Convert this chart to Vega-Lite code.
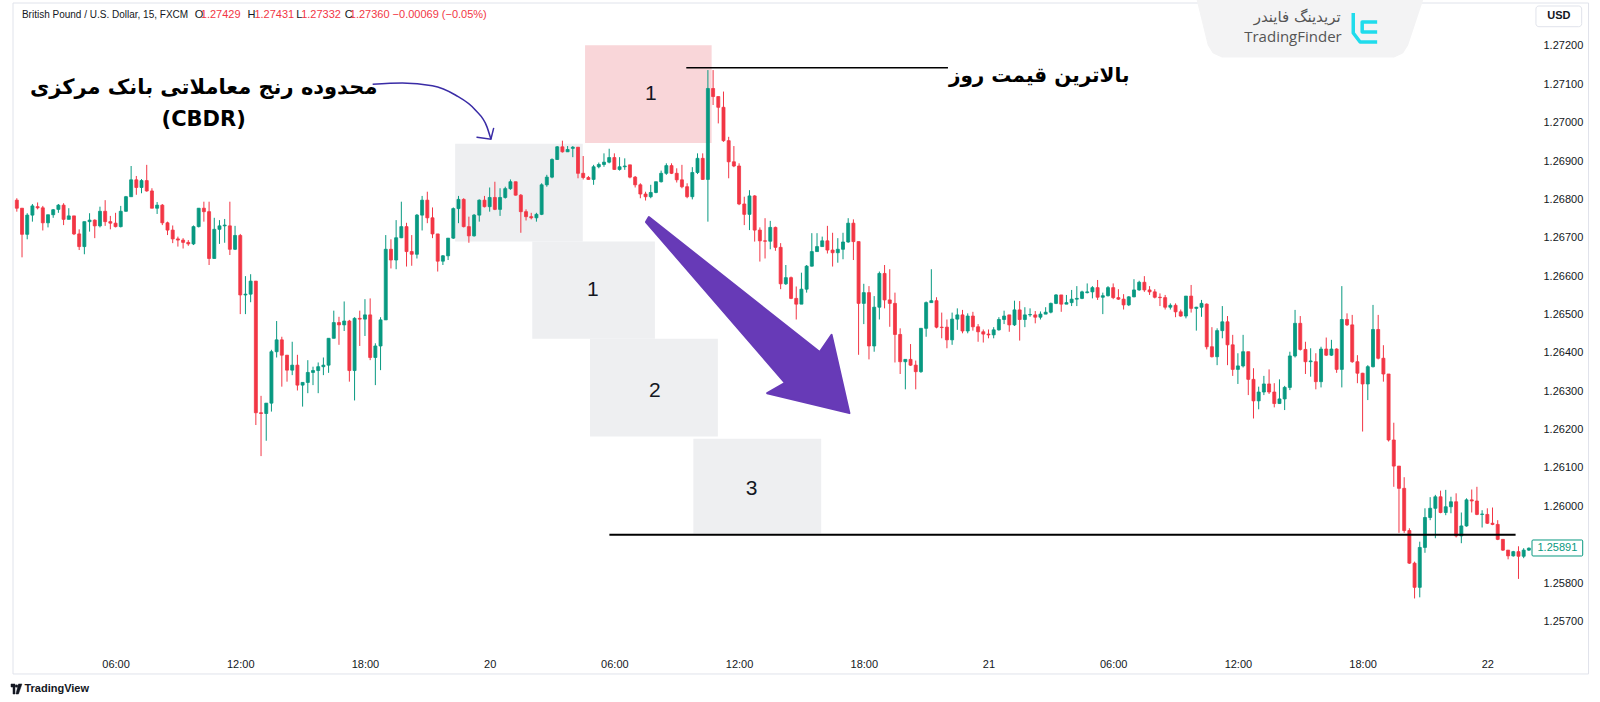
{
"$schema":"https://vega.github.io/schema/vega-lite/v6.json",
"width":1529,"height":647,
"autosize":{"type":"none"},
"padding":{"left":8,"top":3,"right":63,"bottom":52},
"background":"#ffffff",
"config":{"view":{"stroke":null},"font":"Liberation Sans"},
"datasets":{
"candles":[
{"t":1.25,"o":1.26798,"hi":1.26803,"lo":1.26768,"c":1.26777},
{"t":1.5,"o":1.26777,"hi":1.26777,"lo":1.26649,"c":1.26709},
{"t":1.75,"o":1.26709,"hi":1.26764,"lo":1.26696,"c":1.26759},
{"t":2.0,"o":1.26759,"hi":1.26788,"lo":1.26742,"c":1.26783},
{"t":2.25,"o":1.26781,"hi":1.26792,"lo":1.26774,"c":1.26778},
{"t":2.5,"o":1.26778,"hi":1.26783,"lo":1.26719,"c":1.26739},
{"t":2.75,"o":1.26739,"hi":1.2676,"lo":1.26727,"c":1.2676},
{"t":3.0,"o":1.2676,"hi":1.26775,"lo":1.26752,"c":1.26773},
{"t":3.25,"o":1.26774,"hi":1.26788,"lo":1.26765,"c":1.26785},
{"t":3.5,"o":1.26785,"hi":1.2679,"lo":1.26733,"c":1.26748},
{"t":3.75,"o":1.26748,"hi":1.26777,"lo":1.26748,"c":1.26757},
{"t":4.0,"o":1.26757,"hi":1.26757,"lo":1.26707,"c":1.2671},
{"t":4.25,"o":1.2671,"hi":1.26722,"lo":1.26668,"c":1.26677},
{"t":4.5,"o":1.26677,"hi":1.26742,"lo":1.26657,"c":1.26742},
{"t":4.75,"o":1.26742,"hi":1.26764,"lo":1.26716,"c":1.26746},
{"t":5.0,"o":1.26746,"hi":1.26748,"lo":1.26699,"c":1.26731},
{"t":5.25,"o":1.26731,"hi":1.26781,"lo":1.26727,"c":1.26769},
{"t":5.5,"o":1.26769,"hi":1.26798,"lo":1.26731,"c":1.26742},
{"t":5.75,"o":1.26742,"hi":1.26757,"lo":1.26722,"c":1.26738},
{"t":6.0,"o":1.26738,"hi":1.26765,"lo":1.26727,"c":1.26729},
{"t":6.25,"o":1.26729,"hi":1.26783,"lo":1.26727,"c":1.26769},
{"t":6.5,"o":1.26769,"hi":1.26809,"lo":1.26768,"c":1.26807},
{"t":6.75,"o":1.26807,"hi":1.26887,"lo":1.26807,"c":1.26851},
{"t":7.0,"o":1.26851,"hi":1.26861,"lo":1.26812,"c":1.26831},
{"t":7.25,"o":1.26831,"hi":1.26853,"lo":1.26816,"c":1.26849},
{"t":7.5,"o":1.26849,"hi":1.2689,"lo":1.2682,"c":1.26822},
{"t":7.75,"o":1.26822,"hi":1.26829,"lo":1.26777,"c":1.26777},
{"t":8.0,"o":1.26777,"hi":1.26793,"lo":1.26762,"c":1.26785},
{"t":8.25,"o":1.26785,"hi":1.26788,"lo":1.26733,"c":1.26739},
{"t":8.5,"o":1.26739,"hi":1.26742,"lo":1.26707,"c":1.2672},
{"t":8.75,"o":1.2672,"hi":1.26732,"lo":1.26686,"c":1.26697},
{"t":9.0,"o":1.26697,"hi":1.26703,"lo":1.26677,"c":1.26694},
{"t":9.25,"o":1.26694,"hi":1.26699,"lo":1.26672,"c":1.26688},
{"t":9.5,"o":1.26688,"hi":1.26694,"lo":1.26679,"c":1.26684},
{"t":9.75,"o":1.26684,"hi":1.26732,"lo":1.26681,"c":1.26729},
{"t":10.0,"o":1.26729,"hi":1.26777,"lo":1.26727,"c":1.26777},
{"t":10.25,"o":1.26777,"hi":1.26794,"lo":1.26742,"c":1.26768},
{"t":10.5,"o":1.26768,"hi":1.26794,"lo":1.26629,"c":1.26646},
{"t":10.75,"o":1.26646,"hi":1.26752,"lo":1.26646,"c":1.26722},
{"t":11.0,"o":1.26722,"hi":1.26746,"lo":1.26684,"c":1.26731},
{"t":11.25,"o":1.26731,"hi":1.26749,"lo":1.26687,"c":1.26733},
{"t":11.5,"o":1.26731,"hi":1.26794,"lo":1.26655,"c":1.2667},
{"t":11.75,"o":1.2667,"hi":1.26731,"lo":1.26668,"c":1.26706},
{"t":12.0,"o":1.26706,"hi":1.2671,"lo":1.26501,"c":1.26551},
{"t":12.25,"o":1.26551,"hi":1.266,"lo":1.26501,"c":1.26553},
{"t":12.5,"o":1.26553,"hi":1.26605,"lo":1.26532,"c":1.26587},
{"t":12.75,"o":1.26587,"hi":1.26587,"lo":1.26212,"c":1.26244},
{"t":13.0,"o":1.26244,"hi":1.26288,"lo":1.26131,"c":1.26242},
{"t":13.25,"o":1.26242,"hi":1.26269,"lo":1.26171,"c":1.26269},
{"t":13.5,"o":1.26269,"hi":1.26408,"lo":1.26247,"c":1.26403},
{"t":13.75,"o":1.26403,"hi":1.26483,"lo":1.26388,"c":1.26434},
{"t":14.0,"o":1.26434,"hi":1.26442,"lo":1.26312,"c":1.26394},
{"t":14.25,"o":1.26394,"hi":1.26394,"lo":1.26325,"c":1.26355},
{"t":14.5,"o":1.26355,"hi":1.26429,"lo":1.26342,"c":1.26368},
{"t":14.75,"o":1.26368,"hi":1.26395,"lo":1.26302,"c":1.26316},
{"t":15.0,"o":1.26316,"hi":1.26323,"lo":1.2626,"c":1.26323},
{"t":15.25,"o":1.26323,"hi":1.26381,"lo":1.26295,"c":1.26349},
{"t":15.5,"o":1.26349,"hi":1.26364,"lo":1.26316,"c":1.26354},
{"t":15.75,"o":1.26354,"hi":1.26375,"lo":1.26295,"c":1.26364},
{"t":16.0,"o":1.26364,"hi":1.26388,"lo":1.26342,"c":1.26368},
{"t":16.25,"o":1.26368,"hi":1.26438,"lo":1.26348,"c":1.26438},
{"t":16.5,"o":1.26438,"hi":1.2651,"lo":1.26438,"c":1.26479},
{"t":16.75,"o":1.26479,"hi":1.26494,"lo":1.26421,"c":1.26473},
{"t":17.0,"o":1.26473,"hi":1.26534,"lo":1.26457,"c":1.26483},
{"t":17.25,"o":1.26483,"hi":1.26486,"lo":1.26325,"c":1.26354},
{"t":17.5,"o":1.26354,"hi":1.26493,"lo":1.26276,"c":1.2649},
{"t":17.75,"o":1.2649,"hi":1.2651,"lo":1.26418,"c":1.26488},
{"t":18.0,"o":1.26488,"hi":1.2654,"lo":1.26444,"c":1.26499},
{"t":18.25,"o":1.26499,"hi":1.26542,"lo":1.26381,"c":1.26388},
{"t":18.5,"o":1.26388,"hi":1.26425,"lo":1.26316,"c":1.26418},
{"t":18.75,"o":1.26418,"hi":1.26493,"lo":1.26355,"c":1.26486},
{"t":19.0,"o":1.26486,"hi":1.26707,"lo":1.26486,"c":1.2667},
{"t":19.25,"o":1.2667,"hi":1.26696,"lo":1.2662,"c":1.26642},
{"t":19.5,"o":1.26642,"hi":1.26746,"lo":1.26618,"c":1.267},
{"t":19.75,"o":1.267,"hi":1.26794,"lo":1.26699,"c":1.26729},
{"t":20.0,"o":1.26729,"hi":1.26739,"lo":1.26625,"c":1.26664},
{"t":20.25,"o":1.26664,"hi":1.26707,"lo":1.26627,"c":1.26657},
{"t":20.5,"o":1.26657,"hi":1.26762,"lo":1.26646,"c":1.26759},
{"t":20.75,"o":1.26759,"hi":1.26809,"lo":1.26719,"c":1.26798},
{"t":21.0,"o":1.26798,"hi":1.2682,"lo":1.26738,"c":1.26752},
{"t":21.25,"o":1.26752,"hi":1.26779,"lo":1.26699,"c":1.2671},
{"t":21.5,"o":1.2671,"hi":1.2671,"lo":1.26612,"c":1.26639},
{"t":21.75,"o":1.26639,"hi":1.26655,"lo":1.26629,"c":1.26653},
{"t":22.0,"o":1.26653,"hi":1.26699,"lo":1.26642,"c":1.26699},
{"t":22.25,"o":1.26699,"hi":1.26779,"lo":1.26697,"c":1.26776},
{"t":22.5,"o":1.26776,"hi":1.26809,"lo":1.26738,"c":1.268},
{"t":22.75,"o":1.268,"hi":1.26803,"lo":1.26727,"c":1.26729},
{"t":23.0,"o":1.26729,"hi":1.26755,"lo":1.26687,"c":1.26705},
{"t":23.25,"o":1.26705,"hi":1.26762,"lo":1.26703,"c":1.26759},
{"t":23.5,"o":1.26759,"hi":1.268,"lo":1.26742,"c":1.26798},
{"t":23.75,"o":1.26798,"hi":1.26809,"lo":1.26779,"c":1.26781},
{"t":24.0,"o":1.26781,"hi":1.26831,"lo":1.26768,"c":1.26805},
{"t":24.25,"o":1.26805,"hi":1.26846,"lo":1.26772,"c":1.26774},
{"t":24.5,"o":1.26774,"hi":1.26829,"lo":1.26757,"c":1.26805},
{"t":24.75,"o":1.26805,"hi":1.26833,"lo":1.26802,"c":1.26828},
{"t":25.0,"o":1.26828,"hi":1.26852,"lo":1.26825,"c":1.26846},
{"t":25.25,"o":1.26846,"hi":1.26846,"lo":1.2681,"c":1.26811},
{"t":25.5,"o":1.26811,"hi":1.26814,"lo":1.26713,"c":1.26768},
{"t":25.75,"o":1.26768,"hi":1.26774,"lo":1.26745,"c":1.26755},
{"t":26.0,"o":1.26755,"hi":1.26765,"lo":1.26748,"c":1.26752},
{"t":26.25,"o":1.26752,"hi":1.26765,"lo":1.26742,"c":1.26761},
{"t":26.5,"o":1.26761,"hi":1.26842,"lo":1.26759,"c":1.26838},
{"t":26.75,"o":1.26838,"hi":1.26864,"lo":1.26833,"c":1.26858},
{"t":27.0,"o":1.26858,"hi":1.26907,"lo":1.26855,"c":1.26904},
{"t":27.25,"o":1.26904,"hi":1.26939,"lo":1.26903,"c":1.26937},
{"t":27.5,"o":1.26937,"hi":1.26953,"lo":1.26922,"c":1.26924},
{"t":27.75,"o":1.26924,"hi":1.26939,"lo":1.26924,"c":1.2693},
{"t":28.0,"o":1.26933,"hi":1.26939,"lo":1.2691,"c":1.26936},
{"t":28.25,"o":1.26936,"hi":1.26936,"lo":1.26855,"c":1.26868},
{"t":28.5,"o":1.26868,"hi":1.26913,"lo":1.26852,"c":1.26857},
{"t":28.75,"o":1.26857,"hi":1.26861,"lo":1.26851,"c":1.26852},
{"t":29.0,"o":1.26852,"hi":1.2689,"lo":1.26838,"c":1.26885},
{"t":29.25,"o":1.26885,"hi":1.26896,"lo":1.26881,"c":1.26891},
{"t":29.5,"o":1.26891,"hi":1.2692,"lo":1.26885,"c":1.26897},
{"t":29.75,"o":1.26897,"hi":1.26932,"lo":1.26894,"c":1.26909},
{"t":30.0,"o":1.26909,"hi":1.2692,"lo":1.26877,"c":1.26878},
{"t":30.25,"o":1.26878,"hi":1.2691,"lo":1.26875,"c":1.26885},
{"t":30.5,"o":1.26885,"hi":1.26907,"lo":1.26877,"c":1.26887},
{"t":30.75,"o":1.2689,"hi":1.2689,"lo":1.26855,"c":1.26858},
{"t":31.0,"o":1.26858,"hi":1.26861,"lo":1.26831,"c":1.26838},
{"t":31.25,"o":1.26838,"hi":1.26842,"lo":1.26803,"c":1.26814},
{"t":31.5,"o":1.26814,"hi":1.2682,"lo":1.26797,"c":1.26807},
{"t":31.75,"o":1.26807,"hi":1.26838,"lo":1.26803,"c":1.26818},
{"t":32.0,"o":1.26818,"hi":1.26846,"lo":1.26816,"c":1.26846},
{"t":32.25,"o":1.26846,"hi":1.26875,"lo":1.26844,"c":1.26868},
{"t":32.5,"o":1.26868,"hi":1.26894,"lo":1.26864,"c":1.26888},
{"t":32.75,"o":1.26888,"hi":1.26894,"lo":1.26866,"c":1.26868},
{"t":33.0,"o":1.26868,"hi":1.26881,"lo":1.26844,"c":1.26851},
{"t":33.25,"o":1.26851,"hi":1.2689,"lo":1.26829,"c":1.26833},
{"t":33.5,"o":1.26833,"hi":1.26842,"lo":1.26803,"c":1.26807},
{"t":33.75,"o":1.26807,"hi":1.26884,"lo":1.268,"c":1.2687},
{"t":34.0,"o":1.2687,"hi":1.2692,"lo":1.26866,"c":1.26907},
{"t":34.25,"o":1.26907,"hi":1.2692,"lo":1.26851,"c":1.26852},
{"t":34.5,"o":1.26852,"hi":1.27137,"lo":1.26742,"c":1.27089},
{"t":34.75,"o":1.27089,"hi":1.27137,"lo":1.27046,"c":1.27068},
{"t":35.0,"o":1.27068,"hi":1.27068,"lo":1.26998,"c":1.2704},
{"t":35.25,"o":1.2704,"hi":1.27081,"lo":1.2695,"c":1.26953},
{"t":35.5,"o":1.26953,"hi":1.26963,"lo":1.26855,"c":1.26898},
{"t":35.75,"o":1.26898,"hi":1.26939,"lo":1.26884,"c":1.26887},
{"t":36.0,"o":1.26887,"hi":1.26894,"lo":1.26785,"c":1.26788},
{"t":36.25,"o":1.26788,"hi":1.26807,"lo":1.26733,"c":1.26761},
{"t":36.5,"o":1.26761,"hi":1.26824,"lo":1.2672,"c":1.26809},
{"t":36.75,"o":1.26809,"hi":1.26811,"lo":1.2669,"c":1.2672},
{"t":37.0,"o":1.2672,"hi":1.26727,"lo":1.26638,"c":1.26692},
{"t":37.25,"o":1.26692,"hi":1.26751,"lo":1.26646,"c":1.26691},
{"t":37.5,"o":1.26691,"hi":1.26744,"lo":1.2667,"c":1.26727},
{"t":37.75,"o":1.26727,"hi":1.26729,"lo":1.26666,"c":1.26675},
{"t":38.0,"o":1.26675,"hi":1.26686,"lo":1.26566,"c":1.2658},
{"t":38.25,"o":1.2658,"hi":1.26629,"lo":1.26577,"c":1.26596},
{"t":38.5,"o":1.26596,"hi":1.26599,"lo":1.2654,"c":1.26542},
{"t":38.75,"o":1.26542,"hi":1.26573,"lo":1.26487,"c":1.26527},
{"t":39.0,"o":1.26527,"hi":1.26609,"lo":1.26527,"c":1.26566},
{"t":39.25,"o":1.26566,"hi":1.26629,"lo":1.26557,"c":1.26626},
{"t":39.5,"o":1.26626,"hi":1.26712,"lo":1.26625,"c":1.26664},
{"t":39.75,"o":1.26664,"hi":1.26712,"lo":1.26664,"c":1.26677},
{"t":40.0,"o":1.26677,"hi":1.26703,"lo":1.26677,"c":1.26692},
{"t":40.25,"o":1.26692,"hi":1.26731,"lo":1.26659,"c":1.26668},
{"t":40.5,"o":1.26668,"hi":1.26713,"lo":1.26625,"c":1.26661},
{"t":40.75,"o":1.26661,"hi":1.26699,"lo":1.26635,"c":1.2667},
{"t":41.0,"o":1.2667,"hi":1.26713,"lo":1.26644,"c":1.26689},
{"t":41.25,"o":1.26689,"hi":1.26751,"lo":1.26687,"c":1.26738},
{"t":41.5,"o":1.26738,"hi":1.26748,"lo":1.26642,"c":1.2669},
{"t":41.75,"o":1.2669,"hi":1.2669,"lo":1.26395,"c":1.26529},
{"t":42.0,"o":1.26529,"hi":1.2658,"lo":1.26475,"c":1.26557},
{"t":42.25,"o":1.26557,"hi":1.26574,"lo":1.26383,"c":1.26418},
{"t":42.5,"o":1.26418,"hi":1.26548,"lo":1.26403,"c":1.26519},
{"t":42.75,"o":1.26519,"hi":1.26612,"lo":1.26487,"c":1.26607},
{"t":43.0,"o":1.26607,"hi":1.26629,"lo":1.26516,"c":1.26538},
{"t":43.25,"o":1.26538,"hi":1.26618,"lo":1.26468,"c":1.26529},
{"t":43.5,"o":1.26529,"hi":1.26557,"lo":1.26375,"c":1.26448},
{"t":43.75,"o":1.26448,"hi":1.26464,"lo":1.26345,"c":1.26377},
{"t":44.0,"o":1.26377,"hi":1.26383,"lo":1.26305,"c":1.26383},
{"t":44.25,"o":1.26383,"hi":1.26423,"lo":1.26366,"c":1.26368},
{"t":44.5,"o":1.26368,"hi":1.2638,"lo":1.26305,"c":1.26351},
{"t":44.75,"o":1.26351,"hi":1.26464,"lo":1.26348,"c":1.26464},
{"t":45.0,"o":1.26464,"hi":1.26534,"lo":1.26442,"c":1.26531},
{"t":45.25,"o":1.26531,"hi":1.26618,"lo":1.26531,"c":1.26536},
{"t":45.5,"o":1.26536,"hi":1.26545,"lo":1.26464,"c":1.26467},
{"t":45.75,"o":1.26467,"hi":1.26505,"lo":1.26438,"c":1.26466},
{"t":46.0,"o":1.26467,"hi":1.26487,"lo":1.26412,"c":1.26434},
{"t":46.25,"o":1.26434,"hi":1.26505,"lo":1.26421,"c":1.26488},
{"t":46.5,"o":1.26488,"hi":1.26516,"lo":1.2646,"c":1.26499},
{"t":46.75,"o":1.26499,"hi":1.26512,"lo":1.26451,"c":1.26457},
{"t":47.0,"o":1.26457,"hi":1.26503,"lo":1.26451,"c":1.26496},
{"t":47.25,"o":1.26496,"hi":1.26507,"lo":1.26458,"c":1.26468},
{"t":47.5,"o":1.26468,"hi":1.26475,"lo":1.26429,"c":1.26455},
{"t":47.75,"o":1.26455,"hi":1.26461,"lo":1.26427,"c":1.26449},
{"t":48.0,"o":1.26449,"hi":1.26461,"lo":1.26438,"c":1.26447},
{"t":48.25,"o":1.26447,"hi":1.26467,"lo":1.26438,"c":1.2646},
{"t":48.5,"o":1.2646,"hi":1.26493,"lo":1.26458,"c":1.26487},
{"t":48.75,"o":1.26487,"hi":1.2651,"lo":1.26475,"c":1.26496},
{"t":49.0,"o":1.26499,"hi":1.26499,"lo":1.26455,"c":1.26473},
{"t":49.25,"o":1.26473,"hi":1.26536,"lo":1.2647,"c":1.26512},
{"t":49.5,"o":1.26512,"hi":1.26535,"lo":1.26432,"c":1.26487},
{"t":49.75,"o":1.26487,"hi":1.26519,"lo":1.26467,"c":1.26499},
{"t":50.0,"o":1.26499,"hi":1.26516,"lo":1.26494,"c":1.265},
{"t":50.25,"o":1.26499,"hi":1.26509,"lo":1.26477,"c":1.26493},
{"t":50.5,"o":1.26493,"hi":1.26508,"lo":1.26487,"c":1.26501},
{"t":50.75,"o":1.26501,"hi":1.26519,"lo":1.26501,"c":1.26506},
{"t":51.0,"o":1.26506,"hi":1.26531,"lo":1.26503,"c":1.26529},
{"t":51.25,"o":1.26529,"hi":1.26553,"lo":1.26527,"c":1.26551},
{"t":51.5,"o":1.26551,"hi":1.26551,"lo":1.26507,"c":1.26527},
{"t":51.75,"o":1.26527,"hi":1.26551,"lo":1.26527,"c":1.26531},
{"t":52.0,"o":1.26531,"hi":1.26564,"lo":1.26522,"c":1.2654},
{"t":52.25,"o":1.2654,"hi":1.26574,"lo":1.26522,"c":1.26542},
{"t":52.5,"o":1.26542,"hi":1.26562,"lo":1.2654,"c":1.26559},
{"t":52.75,"o":1.26557,"hi":1.26581,"lo":1.26555,"c":1.26559},
{"t":53.0,"o":1.26559,"hi":1.26574,"lo":1.26542,"c":1.2657},
{"t":53.25,"o":1.2657,"hi":1.2659,"lo":1.26538,"c":1.26545},
{"t":53.5,"o":1.26545,"hi":1.26557,"lo":1.26501,"c":1.26549},
{"t":53.75,"o":1.26549,"hi":1.26574,"lo":1.26547,"c":1.2657},
{"t":54.0,"o":1.2657,"hi":1.26581,"lo":1.2654,"c":1.26544},
{"t":54.25,"o":1.26544,"hi":1.26566,"lo":1.26538,"c":1.2654},
{"t":54.5,"o":1.2654,"hi":1.26553,"lo":1.26513,"c":1.26525},
{"t":54.75,"o":1.26525,"hi":1.26548,"lo":1.26522,"c":1.26546},
{"t":55.0,"o":1.26546,"hi":1.26592,"lo":1.26545,"c":1.26564},
{"t":55.25,"o":1.26564,"hi":1.26588,"lo":1.26562,"c":1.26584},
{"t":55.5,"o":1.26584,"hi":1.266,"lo":1.26559,"c":1.26564},
{"t":55.75,"o":1.26564,"hi":1.26574,"lo":1.26551,"c":1.26559},
{"t":56.0,"o":1.26559,"hi":1.26566,"lo":1.26542,"c":1.26545},
{"t":56.25,"o":1.26545,"hi":1.26555,"lo":1.26522,"c":1.26544},
{"t":56.5,"o":1.26544,"hi":1.26551,"lo":1.26513,"c":1.26519},
{"t":56.75,"o":1.26519,"hi":1.26529,"lo":1.26513,"c":1.26524},
{"t":57.0,"o":1.26524,"hi":1.26529,"lo":1.26493,"c":1.26507},
{"t":57.25,"o":1.26507,"hi":1.26513,"lo":1.26494,"c":1.26496},
{"t":57.5,"o":1.26496,"hi":1.26548,"lo":1.2649,"c":1.26548},
{"t":57.75,"o":1.26548,"hi":1.26577,"lo":1.26505,"c":1.26516},
{"t":58.0,"o":1.26516,"hi":1.2652,"lo":1.26458,"c":1.26519},
{"t":58.25,"o":1.26519,"hi":1.26538,"lo":1.26494,"c":1.26529},
{"t":58.5,"o":1.26527,"hi":1.26529,"lo":1.26409,"c":1.26416},
{"t":58.75,"o":1.26416,"hi":1.26467,"lo":1.26388,"c":1.2639},
{"t":59.0,"o":1.2639,"hi":1.26464,"lo":1.26368,"c":1.26458},
{"t":59.25,"o":1.26458,"hi":1.26522,"lo":1.26438,"c":1.26481},
{"t":59.5,"o":1.26481,"hi":1.26496,"lo":1.26368,"c":1.26421},
{"t":59.75,"o":1.26421,"hi":1.26447,"lo":1.2634,"c":1.26357},
{"t":60.0,"o":1.26357,"hi":1.26399,"lo":1.26319,"c":1.26366},
{"t":60.25,"o":1.26366,"hi":1.26447,"lo":1.26362,"c":1.26403},
{"t":60.5,"o":1.26403,"hi":1.26403,"lo":1.2629,"c":1.26331},
{"t":60.75,"o":1.26331,"hi":1.2636,"lo":1.26229,"c":1.26275},
{"t":61.0,"o":1.26275,"hi":1.26312,"lo":1.26253,"c":1.26298},
{"t":61.25,"o":1.26298,"hi":1.2634,"lo":1.2629,"c":1.26319},
{"t":61.5,"o":1.26319,"hi":1.26357,"lo":1.26293,"c":1.26298},
{"t":61.75,"o":1.26298,"hi":1.26321,"lo":1.26258,"c":1.26268},
{"t":62.0,"o":1.26268,"hi":1.26331,"lo":1.26267,"c":1.2628},
{"t":62.25,"o":1.2628,"hi":1.26314,"lo":1.26251,"c":1.2631},
{"t":62.5,"o":1.2631,"hi":1.26403,"lo":1.26303,"c":1.26392},
{"t":62.75,"o":1.26392,"hi":1.26512,"lo":1.26388,"c":1.26477},
{"t":63.0,"o":1.26477,"hi":1.26496,"lo":1.26406,"c":1.26409},
{"t":63.25,"o":1.26409,"hi":1.26429,"lo":1.26345,"c":1.26377},
{"t":63.5,"o":1.26377,"hi":1.26412,"lo":1.26338,"c":1.26379},
{"t":63.75,"o":1.26377,"hi":1.26399,"lo":1.26305,"c":1.26325},
{"t":64.0,"o":1.26325,"hi":1.26416,"lo":1.2631,"c":1.2641},
{"t":64.25,"o":1.2641,"hi":1.2644,"lo":1.26392,"c":1.26394},
{"t":64.5,"o":1.26394,"hi":1.26434,"lo":1.26392,"c":1.2641},
{"t":64.75,"o":1.2641,"hi":1.26412,"lo":1.26348,"c":1.26357},
{"t":65.0,"o":1.26357,"hi":1.26574,"lo":1.2631,"c":1.26487},
{"t":65.25,"o":1.26487,"hi":1.26503,"lo":1.2647,"c":1.26473},
{"t":65.5,"o":1.26473,"hi":1.26499,"lo":1.26374,"c":1.26377},
{"t":65.75,"o":1.26377,"hi":1.26394,"lo":1.26321,"c":1.26347},
{"t":66.0,"o":1.26347,"hi":1.26348,"lo":1.26195,"c":1.26319},
{"t":66.25,"o":1.26319,"hi":1.26368,"lo":1.26277,"c":1.26364},
{"t":66.5,"o":1.26364,"hi":1.26525,"lo":1.26362,"c":1.26461},
{"t":66.75,"o":1.26461,"hi":1.26499,"lo":1.26383,"c":1.26386},
{"t":67.0,"o":1.26386,"hi":1.2642,"lo":1.26325,"c":1.26345},
{"t":67.25,"o":1.26345,"hi":1.26345,"lo":1.26169,"c":1.26173},
{"t":67.5,"o":1.26173,"hi":1.26218,"lo":1.26051,"c":1.26105},
{"t":67.75,"o":1.26105,"hi":1.26105,"lo":1.25931,"c":1.26047},
{"t":68.0,"o":1.26047,"hi":1.26076,"lo":1.25931,"c":1.25937},
{"t":68.25,"o":1.25937,"hi":1.25943,"lo":1.2585,"c":1.25852},
{"t":68.5,"o":1.25852,"hi":1.25856,"lo":1.2576,"c":1.25789},
{"t":68.75,"o":1.25789,"hi":1.25908,"lo":1.25763,"c":1.25893},
{"t":69.0,"o":1.25893,"hi":1.25995,"lo":1.25879,"c":1.25971},
{"t":69.25,"o":1.25971,"hi":1.26024,"lo":1.25964,"c":1.25995},
{"t":69.5,"o":1.25995,"hi":1.2603,"lo":1.25917,"c":1.26025},
{"t":69.75,"o":1.26025,"hi":1.26041,"lo":1.25982,"c":1.25984},
{"t":70.0,"o":1.25984,"hi":1.26043,"lo":1.25977,"c":1.25999},
{"t":70.25,"o":1.25999,"hi":1.26025,"lo":1.25982,"c":1.26012},
{"t":70.5,"o":1.26012,"hi":1.26034,"lo":1.25919,"c":1.25923},
{"t":70.75,"o":1.25923,"hi":1.25984,"lo":1.25904,"c":1.25949},
{"t":71.0,"o":1.25949,"hi":1.26021,"lo":1.25947,"c":1.26017},
{"t":71.25,"o":1.26017,"hi":1.26044,"lo":1.25984,"c":1.26014},
{"t":71.5,"o":1.26014,"hi":1.26051,"lo":1.25977,"c":1.25979},
{"t":71.75,"o":1.25979,"hi":1.2599,"lo":1.25945,"c":1.2598},
{"t":72.0,"o":1.25979,"hi":1.25995,"lo":1.25954,"c":1.25956},
{"t":72.25,"o":1.25956,"hi":1.25997,"lo":1.25951,"c":1.25953},
{"t":72.5,"o":1.25953,"hi":1.25964,"lo":1.25912,"c":1.25914},
{"t":72.75,"o":1.25914,"hi":1.25914,"lo":1.25884,"c":1.25886},
{"t":73.0,"o":1.25886,"hi":1.25886,"lo":1.25862,"c":1.25871},
{"t":73.25,"o":1.25871,"hi":1.25884,"lo":1.25869,"c":1.25882},
{"t":73.5,"o":1.25882,"hi":1.25896,"lo":1.25811,"c":1.2587},
{"t":73.75,"o":1.2587,"hi":1.25891,"lo":1.25865,"c":1.25886},
{"t":74.0,"o":1.25886,"hi":1.25893,"lo":1.25884,"c":1.25891}
],
"grayBoxes":[
{"t":22.34,"t2":28.48,"p":1.26945,"p2":1.2669},
{"t":26.05,"t2":31.95,"p":1.2669,"p2":1.26437},
{"t":28.83,"t2":34.98,"p":1.26437,"p2":1.26182},
{"t":33.8,"t2":39.95,"p":1.26176,"p2":1.25929}
],
"pinkBox":[{"t":28.59,"t2":34.68,"p":1.27202,"p2":1.26947}],
"boxLabels":[
{"t":31.75,"p":1.27075,"s":"1"},
{"t":28.97,"p":1.26564,"s":"1"},
{"t":31.95,"p":1.26301,"s":"2"},
{"t":36.6,"p":1.26046,"s":"3"}
],
"levels":[{"t":33.46,"t2":46.05,"p":1.27143}],
"lowLevel":[{"t":29.76,"t2":73.36,"p":1.25926}],
"arrow":[
{"k":0,"t":31.66,"p":1.26754},
{"k":1,"t":39.88,"p":1.26402},
{"k":2,"t":40.45,"p":1.26447},
{"k":3,"t":41.31,"p":1.26243},
{"k":4,"t":37.35,"p":1.26295},
{"k":5,"t":38.21,"p":1.26322},
{"k":6,"t":31.52,"p":1.26741}
],
"curve":[
{"k":0,"t":18.37,"p":1.271},
{"k":1,"t":19.8,"p":1.27103},
{"k":2,"t":21.24,"p":1.27096},
{"k":3,"t":22.35,"p":1.27072},
{"k":4,"t":23.31,"p":1.27033},
{"k":5,"t":23.87,"p":1.26989},
{"k":6,"t":24.06,"p":1.26957}
],
"curveHead":[
{"k":0,"t":23.39,"p":1.26962},
{"k":1,"t":24.06,"p":1.26957},
{"k":2,"t":24.19,"p":1.26985}
],
"cbdrText":[
{"t":10.24,"p":1.270895,"s":"محدوده رنج معاملاتی بانک مرکزی"},
{"t":10.24,"p":1.270069,"s":"(CBDR)"}
],
"highText":[{"t":50.44,"p":1.271203,"s":"بالاترین قیمت روز"}],
"headerName":[{"t":1.496,"s":"British Pound / U.S. Dollar, 15, FXCM"}],
"headerDark":[
{"t":9.813,"s":"O"},
{"t":12.35,"s":"H"},
{"t":14.69,"s":"L"},
{"t":17.03,"s":"C"}
],
"headerRed":[
{"t":10.1,"s":"1.27429"},
{"t":12.68,"s":"1.27431"},
{"t":14.93,"s":"1.27332"},
{"t":17.27,"s":"1.27360"},
{"t":19.33,"s":"−0.00069 (−0.05%)"}
],
"logoBg":[
{"k":0,"t":58.04,"p":1.273196},
{"k":1,"t":68.89,"p":1.273196},
{"k":2,"t":68.17,"p":1.272023},
{"k":3,"t":67.93,"p":1.271815},
{"k":4,"t":67.51,"p":1.271711},
{"k":5,"t":59.24,"p":1.271711},
{"k":6,"t":58.81,"p":1.271815},
{"k":7,"t":58.57,"p":1.272023}
],
"logoIcon":[
{"g":"a","k":0,"t":65.55,"p":1.272857},
{"g":"a","k":1,"t":65.55,"p":1.272336},
{"g":"a","k":2,"t":65.88,"p":1.272102},
{"g":"a","k":3,"t":66.7,"p":1.272102},
{"g":"b","k":0,"t":66.7,"p":1.272623},
{"g":"b","k":1,"t":65.98,"p":1.272623},
{"g":"b","k":2,"t":65.98,"p":1.272362},
{"g":"b","k":3,"t":66.7,"p":1.272362}
],
"logoFa":[{"t":62.85,"p":1.272761,"s":"تریدینگ فایندر"}],
"logoEn":[{"t":62.65,"p":1.272219,"s":"TradingFinder"}],
"usd":[{"t":74.34,"t2":76.54,"p":1.27304,"p2":1.2725,"tc":75.44,"pc":1.27277,"s":"USD"}],
"last":[{"t":74.15,"t2":76.59,"p":1.259124,"p2":1.258707,"tc":75.37,"pc":1.258916,"s":"1.25891"}],
"tvT":[
{"k":0,"t":0.97,"p":1.255371},
{"k":1,"t":1.162,"p":1.255371},
{"k":2,"t":1.162,"p":1.25511},
{"k":3,"t":1.066,"p":1.25511},
{"k":4,"t":1.066,"p":1.255292},
{"k":5,"t":0.97,"p":1.255292}
],
"tvS":[
{"k":0,"t":1.329,"p":1.255371},
{"k":1,"t":1.496,"p":1.255371},
{"k":2,"t":1.329,"p":1.25511},
{"k":3,"t":1.209,"p":1.25511}
],
"tvDot":[{"t":1.233,"p":1.255319}],
"tvText":[{"t":1.616,"p":1.25524,"s":"TradingView"}]
},
"layer":[
{"data":{"values":[{}]},
 "mark":{"type":"rect","fill":null,"stroke":"#e0e3eb","strokeWidth":1},
 "encoding":{"x":{"datum":1.066,"type":"quantitative","title":null},"x2":{"datum":76.87},"y":{"datum":1.273118,"type":"quantitative","title":null},"y2":{"datum":1.255632}}},
{"data":{"name":"logoBg"},
 "mark":{"type":"line","interpolate":"linear-closed","fill":"#f3f3f4","stroke":"#f3f3f4","strokeWidth":1},
 "encoding":{"x":{"field":"t","type":"quantitative","title":null},"y":{"field":"p","type":"quantitative","title":null},"order":{"field":"k","type":"quantitative"}}},
{"data":{"name":"grayBoxes"},
 "mark":{"type":"rect","fill":"#eeeff1"},
 "encoding":{"x":{"field":"t","type":"quantitative","title":null},"x2":{"field":"t2"},"y":{"field":"p","type":"quantitative","title":null},"y2":{"field":"p2"}}},
{"data":{"name":"pinkBox"},
 "mark":{"type":"rect","fill":"#f9d6d9"},
 "encoding":{"x":{"field":"t","type":"quantitative","title":null},"x2":{"field":"t2"},"y":{"field":"p","type":"quantitative","title":null},"y2":{"field":"p2"}}},
{"data":{"name":"candles"},
 "mark":{"type":"rule","strokeWidth":1},
 "encoding":{
  "x":{"field":"t","type":"quantitative","title":null,"scale":{"domain":[1.066,74.15],"nice":false,"zero":false},
       "axis":{"orient":"bottom","values":[6,12,18,24,30,36,42,48,54,60,66,72],"labelExpr":"datum.value % 24 == 0 ? toString(19 + datum.value/24) : ((datum.value % 24) < 10 ? '0' : '') + toString(datum.value % 24) + ':00'","ticks":false,"domain":false,"grid":false,"labelPadding":8,"labelFontSize":11,"labelColor":"#131722","labelFont":"Liberation Sans","title":null}},
  "y":{"field":"lo","type":"quantitative","title":null,"scale":{"domain":[1.256257,1.273118],"nice":false,"zero":false},
       "axis":{"orient":"right","values":[1.257,1.258,1.26,1.261,1.262,1.263,1.264,1.265,1.266,1.267,1.268,1.269,1.27,1.271,1.272],"format":".5f","ticks":false,"domain":false,"grid":false,"labelPadding":6,"labelFontSize":11,"labelColor":"#131722","labelFont":"Liberation Sans","title":null}},
  "y2":{"field":"hi"},
  "color":{"condition":{"test":"datum.c >= datum.o","value":"#089981"},"value":"#F23645"}}},
{"data":{"name":"candles"},
 "mark":{"type":"bar","size":3,"strokeWidth":0.8},
 "encoding":{
  "x":{"field":"t","type":"quantitative","title":null},
  "y":{"field":"o","type":"quantitative","title":null},
  "y2":{"field":"c"},
  "fill":{"condition":{"test":"datum.c >= datum.o","value":"#089981"},"value":"#F23645"},
  "stroke":{"condition":{"test":"datum.c >= datum.o","value":"#089981"},"value":"#F23645"}}},
{"data":{"name":"levels"},
 "mark":{"type":"rule","stroke":"#000000","strokeWidth":1.4},
 "encoding":{"x":{"field":"t","type":"quantitative","title":null},"x2":{"field":"t2"},"y":{"field":"p","type":"quantitative","title":null}}},
{"data":{"name":"lowLevel"},
 "mark":{"type":"rule","stroke":"#000000","strokeWidth":1.8},
 "encoding":{"x":{"field":"t","type":"quantitative","title":null},"x2":{"field":"t2"},"y":{"field":"p","type":"quantitative","title":null}}},
{"data":{"name":"arrow"},
 "mark":{"type":"line","interpolate":"linear-closed","fill":"#673ab7","stroke":"#673ab7","strokeWidth":2,"strokeJoin":"round"},
 "encoding":{"x":{"field":"t","type":"quantitative","title":null},"y":{"field":"p","type":"quantitative","title":null},"order":{"field":"k","type":"quantitative"}}},
{"data":{"name":"curve"},
 "mark":{"type":"line","interpolate":"monotone","stroke":"#3a2ca6","strokeWidth":1.5},
 "encoding":{"x":{"field":"t","type":"quantitative","title":null},"y":{"field":"p","type":"quantitative","title":null},"order":{"field":"k","type":"quantitative"}}},
{"data":{"name":"curveHead"},
 "mark":{"type":"line","stroke":"#3a2ca6","strokeWidth":1.5,"strokeCap":"round"},
 "encoding":{"x":{"field":"t","type":"quantitative","title":null},"y":{"field":"p","type":"quantitative","title":null},"order":{"field":"k","type":"quantitative"}}},
{"data":{"name":"boxLabels"},
 "mark":{"type":"text","fontSize":21,"font":"Liberation Sans","color":"#131722","align":"center","baseline":"middle"},
 "encoding":{"x":{"field":"t","type":"quantitative","title":null},"y":{"field":"p","type":"quantitative","title":null},"text":{"field":"s"}}},
{"data":{"name":"cbdrText"},
 "mark":{"type":"text","fontSize":21,"font":"DejaVu Sans","fontWeight":"bold","color":"#000000","align":"center","baseline":"middle"},
 "encoding":{"x":{"field":"t","type":"quantitative","title":null},"y":{"field":"p","type":"quantitative","title":null},"text":{"field":"s"}}},
{"data":{"name":"highText"},
 "mark":{"type":"text","fontSize":20,"font":"DejaVu Sans","fontWeight":"bold","color":"#000000","align":"center","baseline":"middle"},
 "encoding":{"x":{"field":"t","type":"quantitative","title":null},"y":{"field":"p","type":"quantitative","title":null},"text":{"field":"s"}}},
{"data":{"name":"headerName"},
 "mark":{"type":"text","fontSize":10,"font":"Liberation Sans","color":"#131722","align":"left","baseline":"middle"},
 "encoding":{"x":{"field":"t","type":"quantitative","title":null},"y":{"datum":1.272805,"type":"quantitative"},"text":{"field":"s"}}},
{"data":{"name":"headerDark"},
 "mark":{"type":"text","fontSize":11,"font":"Liberation Sans","color":"#131722","align":"left","baseline":"middle"},
 "encoding":{"x":{"field":"t","type":"quantitative","title":null},"y":{"datum":1.272805,"type":"quantitative"},"text":{"field":"s"}}},
{"data":{"name":"headerRed"},
 "mark":{"type":"text","fontSize":11,"font":"Liberation Sans","color":"#F23645","align":"left","baseline":"middle"},
 "encoding":{"x":{"field":"t","type":"quantitative","title":null},"y":{"datum":1.272805,"type":"quantitative"},"text":{"field":"s"}}},
{"data":{"name":"logoIcon"},
 "mark":{"type":"line","stroke":"#1fdcec","strokeWidth":3.5,"strokeJoin":"round"},
 "encoding":{"x":{"field":"t","type":"quantitative","title":null},"y":{"field":"p","type":"quantitative","title":null},"detail":{"field":"g"},"order":{"field":"k","type":"quantitative"}}},
{"data":{"name":"logoFa"},
 "mark":{"type":"text","fontSize":15,"font":"DejaVu Sans","color":"#555555","align":"center","baseline":"middle"},
 "encoding":{"x":{"field":"t","type":"quantitative","title":null},"y":{"field":"p","type":"quantitative","title":null},"text":{"field":"s"}}},
{"data":{"name":"logoEn"},
 "mark":{"type":"text","fontSize":15,"font":"Open Sans","color":"#555555","align":"center","baseline":"middle"},
 "encoding":{"x":{"field":"t","type":"quantitative","title":null},"y":{"field":"p","type":"quantitative","title":null},"text":{"field":"s"}}},
{"data":{"name":"usd"},
 "mark":{"type":"rect","fill":"#ffffff","stroke":"#e0e3eb","cornerRadius":3},
 "encoding":{"x":{"field":"t","type":"quantitative","title":null},"x2":{"field":"t2"},"y":{"field":"p","type":"quantitative","title":null},"y2":{"field":"p2"}}},
{"data":{"name":"usd"},
 "mark":{"type":"text","fontSize":11,"font":"Liberation Sans","fontWeight":"bold","color":"#131722","align":"center","baseline":"middle"},
 "encoding":{"x":{"field":"tc","type":"quantitative","title":null},"y":{"field":"pc","type":"quantitative","title":null},"text":{"field":"s"}}},
{"data":{"name":"last"},
 "mark":{"type":"rect","fill":"#ffffff","stroke":"#089981","strokeWidth":1,"cornerRadius":1},
 "encoding":{"x":{"field":"t","type":"quantitative","title":null},"x2":{"field":"t2"},"y":{"field":"p","type":"quantitative","title":null},"y2":{"field":"p2"}}},
{"data":{"name":"last"},
 "mark":{"type":"text","fontSize":11,"font":"Liberation Sans","color":"#089981","align":"center","baseline":"middle"},
 "encoding":{"x":{"field":"tc","type":"quantitative","title":null},"y":{"field":"pc","type":"quantitative","title":null},"text":{"field":"s"}}},
{"data":{"name":"tvT"},
 "mark":{"type":"line","interpolate":"linear-closed","fill":"#131722","stroke":"#131722","strokeWidth":0.5},
 "encoding":{"x":{"field":"t","type":"quantitative","title":null},"y":{"field":"p","type":"quantitative","title":null},"order":{"field":"k","type":"quantitative"}}},
{"data":{"name":"tvS"},
 "mark":{"type":"line","interpolate":"linear-closed","fill":"#131722","stroke":"#131722","strokeWidth":0.5},
 "encoding":{"x":{"field":"t","type":"quantitative","title":null},"y":{"field":"p","type":"quantitative","title":null},"order":{"field":"k","type":"quantitative"}}},
{"data":{"name":"tvDot"},
 "mark":{"type":"point","filled":true,"size":9,"color":"#131722","opacity":1},
 "encoding":{"x":{"field":"t","type":"quantitative","title":null},"y":{"field":"p","type":"quantitative","title":null}}},
{"data":{"name":"tvText"},
 "mark":{"type":"text","fontSize":11,"font":"Liberation Sans","fontWeight":"bold","color":"#131722","align":"left","baseline":"middle"},
 "encoding":{"x":{"field":"t","type":"quantitative","title":null},"y":{"field":"p","type":"quantitative","title":null},"text":{"field":"s"}}}
]
}
